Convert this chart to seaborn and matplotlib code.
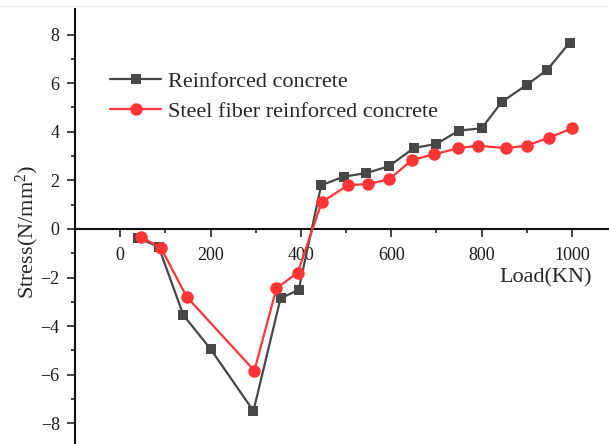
import matplotlib
matplotlib.use("Agg")
import matplotlib.pyplot as plt
from matplotlib.ticker import FixedLocator
from matplotlib.lines import Line2D
import seaborn as sns
import pandas as pd

# Data
rc_load = [40, 85, 140, 200, 295, 355, 395, 445, 495, 545, 595, 650, 700, 750, 800, 845, 900, 945, 995]
rc_stress = [-0.38, -0.73, -3.55, -4.94, -7.49, -2.85, -2.51, 1.80, 2.15, 2.30, 2.58, 3.33, 3.50, 4.05, 4.14, 5.23, 5.93, 6.54, 7.67]
sf_load = [45, 90, 147, 297, 346, 393, 446, 505, 548, 596, 646, 695, 748, 792, 854, 900, 950, 1000]
sf_stress = [-0.32, -0.77, -2.79, -5.83, -2.44, -1.80, 1.10, 1.81, 1.84, 2.05, 2.84, 3.07, 3.32, 3.43, 3.32, 3.43, 3.76, 4.14]
series_names = ["Reinforced concrete", "Steel fiber reinforced concrete"]
x_ticks = [0, 200, 400, 600, 800, 1000]
y_ticks = [-8, -6, -4, -2, 0, 2, 4, 6, 8]

sns.set_style("white")
plt.rcParams["font.family"] = ["Liberation Serif", "DejaVu Serif"]
plt.rcParams["axes.unicode_minus"] = True
plt.rcParams["mathtext.fontset"] = "custom"
plt.rcParams["mathtext.rm"] = "Liberation Serif"
plt.rcParams["mathtext.it"] = "Liberation Serif:italic"
plt.rcParams["mathtext.bf"] = "Liberation Serif:bold"

fig = plt.figure(figsize=(6.09, 4.44), dpi=100)
ax = fig.add_axes([75 / 609, 0.0, 1 - 75 / 609, 1 - 9 / 444])

df_rc = pd.DataFrame({"Load": rc_load, "Stress": rc_stress})
df_sf = pd.DataFrame({"Load": sf_load, "Stress": sf_stress})

sns.lineplot(data=df_rc, x="Load", y="Stress", ax=ax, color="#474747", lw=1.6,
             marker="s", markersize=7.4, markeredgewidth=0, markerfacecolor="#474747",
             label=series_names[0], estimator=None, sort=False, zorder=3)
sns.lineplot(data=df_sf, x="Load", y="Stress", ax=ax, color="#FF3535", lw=1.6,
             marker="o", markersize=9, markeredgewidth=0, markerfacecolor="#FF3535",
             label=series_names[1], estimator=None, sort=False, zorder=4)

ax.set_xlim(-100, 1082)
ax.set_ylim(-8.85, 9.05)

for s in ["top", "right"]:
    ax.spines[s].set_visible(False)
ax.spines["bottom"].set_position(("data", 0))
for s in ["left", "bottom"]:
    ax.spines[s].set_linewidth(1.5)
    ax.spines[s].set_color("#111111")

ax.xaxis.set_major_locator(FixedLocator(x_ticks))
ax.xaxis.set_minor_locator(FixedLocator([100, 300, 500, 700, 900]))
ax.yaxis.set_major_locator(FixedLocator(y_ticks))
ax.yaxis.set_minor_locator(FixedLocator([-7, -5, -3, -1, 1, 3, 5, 7]))
ax.set_xticklabels([str(v) for v in x_ticks])
ax.set_yticklabels([str(v).replace("-", "\u2212") for v in y_ticks])

ax.tick_params(axis="both", which="major", direction="out", length=6, width=1.1,
               color="#111111", labelsize=13, labelcolor="#1a1a1a")
ax.tick_params(axis="both", which="minor", direction="out", length=3, width=1.1,
               color="#111111")
ax.tick_params(axis="x", which="major", pad=7)
ax.tick_params(axis="y", which="major", pad=5)
ax.tick_params(bottom=True, left=True, which="both")

ax.set_xlabel("Load(KN)", fontsize=16)
ax.set_ylabel("Stress(N/mm$^{2}$)", fontsize=16)
ax.xaxis.set_label_coords((546 - 75) / 534, 1 - (278 - 9) / 435, transform=ax.transAxes)
ax.xaxis.label.set_verticalalignment("center")
ax.yaxis.set_label_coords((27 - 75) / 534, 1 - (232 - 9) / 435, transform=ax.transAxes)
ax.yaxis.label.set_verticalalignment("center")

ax.grid(False)
leg = ax.legend(loc="upper left", bbox_to_anchor=((110 - 75) / 534, 1 - (71 - 9) / 435),
                frameon=False, fontsize=16, handlelength=2.3, handletextpad=0.3,
                labelspacing=0.43, borderpad=0, borderaxespad=0)

fig.add_artist(Line2D([0, 1], [1 - 6.5 / 444, 1 - 6.5 / 444], transform=fig.transFigure,
                      color="#eeeeee", lw=1))

fig.savefig("out.png", dpi=100)
